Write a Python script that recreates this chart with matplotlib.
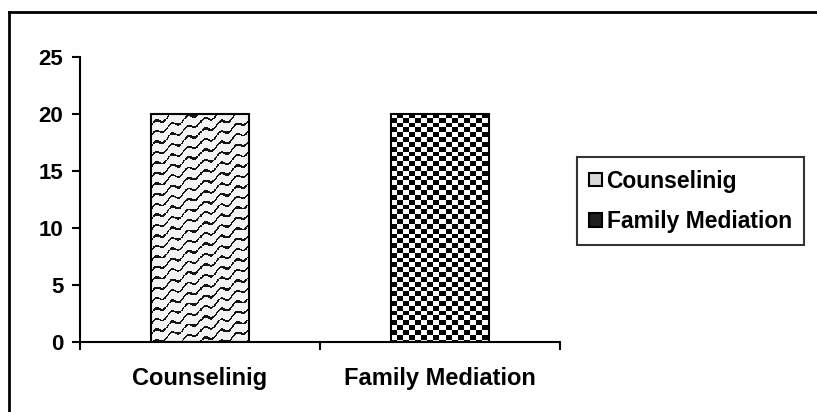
import numpy as np
import matplotlib.pyplot as plt
from matplotlib.lines import Line2D
from matplotlib.patches import Patch

plt.rcParams['font.family'] = ['Liberation Sans', 'DejaVu Sans']
plt.rcParams['font.weight'] = 'bold'

categories = ['Counselinig', 'Family Mediation']
values = [20, 20]
yticks = [0, 5, 10, 15, 20, 25]

fig = plt.figure(figsize=(8.17, 4.12), dpi=100)
ax = fig.add_axes([0.098, 0.170, 0.587, 0.692])

x = np.arange(len(categories))
bars = ax.bar(x, values, width=0.41, facecolor='none', edgecolor='black',
              linewidth=1.5, zorder=3)


def weave(h, w):
    i, j = np.mgrid[0:h, 0:w]
    v = (i + 0.6 * j + 3.0 * np.sin(2 * np.pi * j / 16.0)) % 13
    img = np.where(v < 2.8, 0.08, 0.95)
    return img


def checker(h, w, cell=6):
    i, j = np.mgrid[0:h, 0:w]
    return np.where(((i // cell) + (j // cell)) % 2 == 0, 1.0, 0.0)


textures = [weave, checker]
for bar, tex in zip(bars, textures):
    bx, by = bar.get_x(), bar.get_y()
    bw, bh = bar.get_width(), bar.get_height()
    img = tex(285, 98)
    im = ax.imshow(img, cmap='gray', vmin=0, vmax=1, extent=[bx, bx + bw, by, by + bh],
                   interpolation='nearest', aspect='auto', zorder=2)
    im.set_clip_path(bar)

ax.set_xlim(-0.5, len(categories) - 0.5)
ax.set_ylim(0, 25)
ax.set_yticks(yticks)
ax.set_xticks(np.arange(len(categories) + 1) - 0.5)
ax.set_xticklabels([])
ax.set_xticks(x, minor=True)
ax.set_xticklabels(categories, minor=True)
ax.tick_params(axis='x', which='minor', length=0, pad=18, labelsize=17)
ax.tick_params(axis='x', which='major', direction='out', length=6, width=1.5)
ax.tick_params(axis='y', direction='out', length=6, width=1.5, pad=6, labelsize=16)
for s in ['top', 'right']:
    ax.spines[s].set_visible(False)
for s in ['left', 'bottom']:
    ax.spines[s].set_linewidth(1.5)

handles = [Patch(facecolor='#d8d8d8', edgecolor='black', linewidth=1.5, label=categories[0]),
           Patch(facecolor='#202020', edgecolor='black', linewidth=1.5, label=categories[1])]
leg = fig.legend(handles=handles, loc='upper left', bbox_to_anchor=(0.706, 0.619),
                 frameon=True, fancybox=False, edgecolor='black', fontsize=16.5,
                 handlelength=0.55, handleheight=0.55, handletextpad=0.2,
                 borderpad=0.55, labelspacing=0.75, borderaxespad=0)
leg.get_frame().set_linewidth(1.5)

fig.add_artist(Line2D([0.0115, 0.0115], [0.0, 0.97], transform=fig.transFigure,
                      color='black', linewidth=2))
fig.add_artist(Line2D([0.0115, 1.0], [0.97, 0.97], transform=fig.transFigure,
                      color='black', linewidth=2))

fig.savefig('out.png', dpi=100)
